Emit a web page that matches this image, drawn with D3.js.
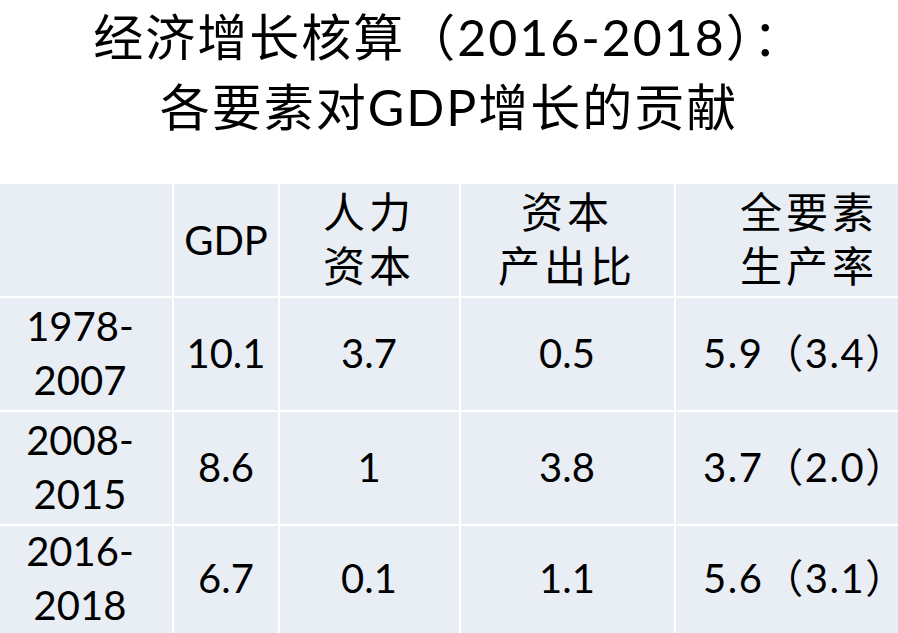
<!DOCTYPE html><html><head><meta charset="utf-8"><script src="https://cdn.jsdelivr.net/npm/d3@7"></script>
<style>body{margin:0;background:#fff}</style></head><body><svg id="c" width="898" height="633"></svg><script>
const titleLines=["经济增长核算（2016-2018）：","各要素对GDP增长的贡献"];
const headers=[[""],["GDP"],["人力","资本"],["资本","产出比"],["全要素","生产率"]];
const periods=[["1978-","2007"],["2008-","2015"],["2016-","2018"]];
const gdp=["10.1","8.6","6.7"];
const human=["3.7","1","0.1"];
const kor=["0.5","3.8","1.1"];
const tfp=["5.9（3.4）","3.7（2.0）","5.6（3.1）"];
const colEdges=[0,173,279,460,675,940];
const rowEdges=[184,297,411,525,639];
const svg=d3.select("#c");
const font="Lato, 'Noto Sans CJK SC', sans-serif";
svg.selectAll("text.t").data(titleLines).join("text").attr("x",449).attr("y",(d,i)=>56+i*70)
 .attr("text-anchor","middle").attr("font-family",font).attr("font-size",50).attr("letter-spacing",i=>2).attr("fill","#000").text(d=>d);
svg.append("rect").attr("x",0).attr("y",rowEdges[0]).attr("width",898).attr("height",633-rowEdges[0]).attr("fill","#e9edf4");
colEdges.slice(1,5).forEach(x=>svg.append("line").attr("x1",x).attr("x2",x).attr("y1",rowEdges[0]).attr("y2",633).attr("stroke","#fff").attr("stroke-width",2));
rowEdges.slice(1,4).forEach(y=>svg.append("line").attr("x1",0).attr("x2",898).attr("y1",y).attr("y2",y).attr("stroke","#fff").attr("stroke-width",2));
const rows=[headers].concat(periods.map((p,i)=>[p,[gdp[i]],[human[i]],[kor[i]],[tfp[i]]]));
const centers=[80,226,369,567,809];
rows.forEach((r,ri)=>{
 const cy=(rowEdges[ri]+rowEdges[ri+1])/2 - (ri==3?3:0);
 r.forEach((lines,ci)=>{
  const n=lines.length;
  const cjk=(ri==0&&ci>1);
  lines.forEach((t,li)=>{
   const y=cy+(li-(n-1)/2)*54+14;
   const left=(ci==4&&ri>0);
   svg.append("text").attr("x",left?703:centers[ci]).attr("y",y).attr("text-anchor",left?"start":"middle")
    .attr("font-family",font).attr("font-size",cjk?42:40).attr("letter-spacing",cjk?4:(left?1.5:0)).attr("fill","#000").text(t);
  });
 });
});
</script></body></html>
